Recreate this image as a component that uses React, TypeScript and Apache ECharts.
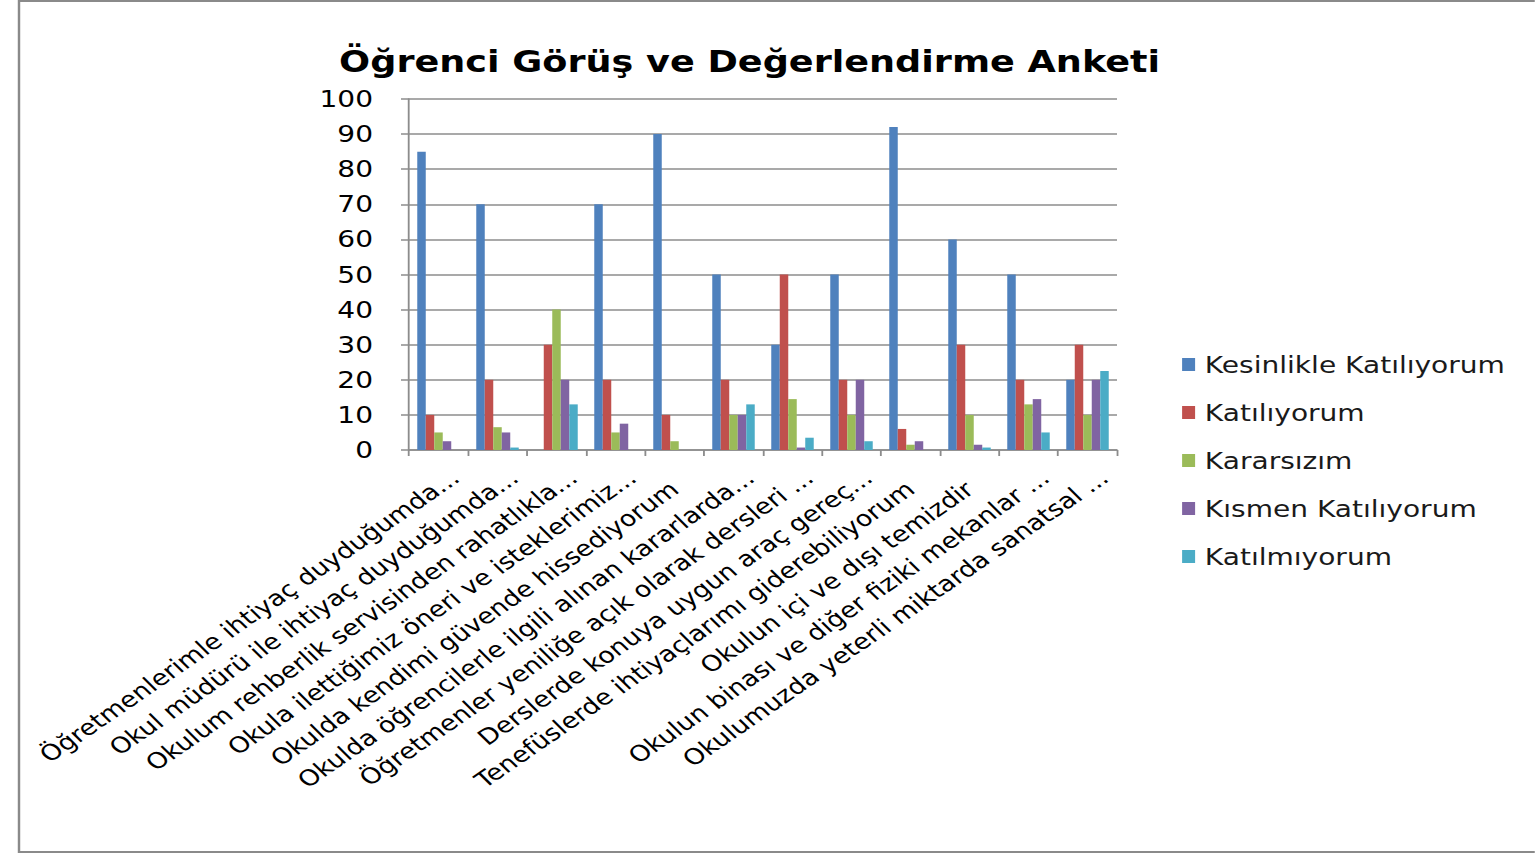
import React, { useEffect, useRef } from "react";
import * as echarts from "echarts";

const titleText = "Öğrenci Görüş ve Değerlendirme Anketi";

const categories = [
  "Öğretmenlerimle ihtiyaç duyduğumda...",
  "Okul müdürü ile ihtiyaç duyduğumda...",
  "Okulum rehberlik servisinden rahatlıkla...",
  "Okula ilettiğimiz öneri ve isteklerimiz...",
  "Okulda kendimi güvende hissediyorum",
  "Okulda öğrencilerle ilgili alınan kararlarda...",
  "Öğretmenler yeniliğe açık olarak dersleri ...",
  "Derslerde konuya uygun araç gereç...",
  "Tenefüslerde ihtiyaçlarımı giderebiliyorum",
  "Okulun içi ve dışı temizdir",
  "Okulun binası ve diğer fiziki mekanlar ...",
  "Okulumuzda yeterli miktarda sanatsal ...",
];

const seriesNames = [
  "Kesinlikle Katılıyorum",
  "Katılıyorum",
  "Kararsızım",
  "Kısmen Katılıyorum",
  "Katılmıyorum",
];

const kesinlikle = [85, 70, 0, 70, 90, 50, 30, 50, 92, 60, 50, 20];
const katiliyorum = [10, 20, 30, 20, 10, 20, 50, 20, 6, 30, 20, 30];
const kararsizim = [5, 6.5, 40, 5, 2.5, 10, 14.5, 10, 1.5, 10, 13, 10];
const kismen = [2.5, 5, 20, 7.5, 0, 10, 0.7, 20, 2.5, 1.5, 14.5, 20];
const katilmiyorum = [0, 0.7, 13, 0, 0, 13, 3.5, 2.5, 0, 0.7, 5, 22.5];

const yTicks = { min: 0, max: 100, interval: 10 };

const colors = ["#4F81BD", "#C0504D", "#9BBB59", "#8064A2", "#4BACC6"];

const FONT = "DejaVu Sans";
// The reference picture is horizontally stretched; reproduce that by
// laying out in a narrower box and scaling it horizontally.
const STRETCH = 1.22;
const PAGE_W = 1535;
const PAGE_H = 855;
const BASE_W = PAGE_W / STRETCH;
const sx = (x: number) => x / STRETCH;

export default function App() {
  const ref = useRef<HTMLDivElement>(null);
  useEffect(() => {
    if (!ref.current) return;
    const chart = echarts.init(ref.current, null, { renderer: "svg" });
    const values = [kesinlikle, katiliyorum, kararsizim, kismen, katilmiyorum];
    chart.setOption({
      animation: false,
      backgroundColor: "#ffffff",
      color: colors,
      title: {
        text: titleText,
        left: sx(333),
        top: 42,
        textStyle: {
          fontFamily: FONT,
          fontWeight: "bold",
          fontSize: 30,
          color: "#000000",
        },
      },
      legend: {
        orient: "vertical",
        left: sx(1176),
        top: 348,
        itemWidth: sx(13),
        itemHeight: 13,
        itemGap: 25,
        icon: "rect",
        data: seriesNames,
        textStyle: {
          fontFamily: FONT,
          fontSize: 23,
          color: "#1a1a1a",
          padding: [0, 0, 0, 3],
        },
      },
      grid: {
        left: sx(409),
        top: 99,
        width: sx(708),
        height: 351,
        containLabel: false,
      },
      xAxis: {
        type: "category",
        data: categories.map((c) =>
          c.endsWith("...")
            ? { value: c, textStyle: { padding: [0, -18, 0, 0] } }
            : c
        ),
        axisLine: { lineStyle: { color: "#8c8c8c", width: 1.5 } },
        axisTick: { show: true, length: 6, lineStyle: { color: "#8c8c8c", width: 1.5 } },
        axisLabel: {
          interval: 0,
          rotate: 40,
          margin: 36,
          fontFamily: FONT,
          fontSize: 22,
          color: "#000000",
        },
      },
      yAxis: {
        type: "value",
        min: yTicks.min,
        max: yTicks.max,
        interval: yTicks.interval,
        axisLine: { show: true, lineStyle: { color: "#8c8c8c", width: 1.5 } },
        axisTick: { show: true, length: sx(8), lineStyle: { color: "#8c8c8c", width: 1.5 } },
        splitLine: { lineStyle: { color: "#8c8c8c", width: 1.5 } },
        axisLabel: {
          fontFamily: FONT,
          fontSize: 23,
          color: "#000000",
          margin: sx(36),
        },
      },
      series: seriesNames.map((name, i) => ({
        name,
        type: "bar",
        data: values[i],
        barGap: "0%",
        barCategoryGap: "28%",
        itemStyle: { color: colors[i] },
      })),
      graphic: [
        {
          type: "rect",
          shape: { x: sx(19), y: 1, width: BASE_W, height: 851 },
          style: { fill: "none", stroke: "#8a8a8a", lineWidth: 2 },
          silent: true,
        },
      ],
    });
    return () => chart.dispose();
  }, []);
  return (
    <div
      ref={ref}
      style={{
        position: "fixed",
        left: 0,
        top: 0,
        width: BASE_W,
        height: PAGE_H,
        transform: `scaleX(${STRETCH})`,
        transformOrigin: "0 0",
      }}
    />
  );
}
